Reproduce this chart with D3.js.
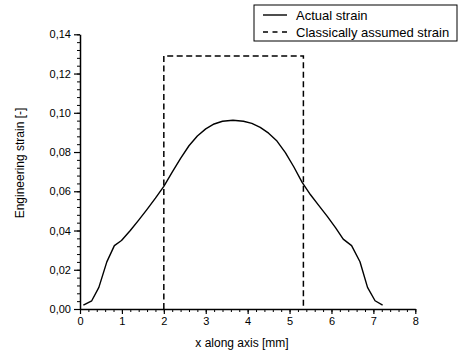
<!DOCTYPE html>
<html>
<head>
<meta charset="utf-8">
<script src="https://cdn.jsdelivr.net/npm/d3@7"></script>
<style>
  body { margin: 0; background: #fff; }
  text { font-family: "Liberation Sans", Arial, sans-serif; fill: #000; }
</style>
</head>
<body>
<script>
// actual strain along the axis
const xPos = [0.08, 0.28, 0.45, 0.64, 0.82, 0.99, 1.2, 1.4, 1.6, 1.8, 2.0, 2.2, 2.4, 2.6, 2.8, 3.0, 3.2, 3.4, 3.65,
  3.9, 4.1, 4.3, 4.5, 4.7, 4.9, 5.1, 5.3, 5.5, 5.7, 5.9, 6.1, 6.28, 6.48, 6.68, 6.86, 7.04, 7.22];
const strain = [0.002, 0.0042, 0.011, 0.024, 0.0323, 0.0349, 0.040, 0.0453, 0.0508, 0.0565, 0.0625, 0.0698, 0.0768,
  0.0832, 0.0882, 0.0918, 0.0943, 0.0957, 0.0962, 0.0957, 0.0946, 0.0926, 0.0896, 0.0856, 0.0797, 0.0725, 0.0645,
  0.0582, 0.0527, 0.0472, 0.0413, 0.0356, 0.0323, 0.0241, 0.011, 0.0042, 0.002];
// classically assumed strain (constant between two positions)
const assumedX = [2.0, 5.33];
const assumedStrain = 0.129;

const xTicks = [0, 1, 2, 3, 4, 5, 6, 7, 8];
const yTicks = [0, 0.02, 0.04, 0.06, 0.08, 0.10, 0.12, 0.14];
const seriesNames = ["Actual strain", "Classically assumed strain"];

const width = 459, height = 352;
const svg = d3.select("body").append("svg").attr("width", width).attr("height", height);

const x = d3.scaleLinear().domain([0, 8]).range([80, 415.3]);
const y = d3.scaleLinear().domain([0, 0.14]).range([309, 34.3]);
const fmt = d => d.toFixed(2).replace(".", ",");

// minor ticks
svg.append("g").attr("transform", "translate(0,309)")
  .call(d3.axisBottom(x).tickValues(d3.range(0, 8.01, 0.2)).tickSize(3).tickFormat(""))
  .call(g => g.select(".domain").remove());
svg.append("g").attr("transform", "translate(80,0)")
  .call(d3.axisLeft(y).tickValues(d3.range(0, 0.1401, 0.004)).tickSize(3).tickFormat(""))
  .call(g => g.select(".domain").remove());

const xAxis = svg.append("g").attr("transform", "translate(0,309)")
  .call(d3.axisBottom(x).tickValues(xTicks).tickSize(5).tickSizeOuter(0).tickPadding(3));
const yAxis = svg.append("g").attr("transform", "translate(80,0)")
  .call(d3.axisLeft(y).tickValues(yTicks).tickFormat(fmt).tickSize(6).tickSizeOuter(0).tickPadding(3));

[xAxis, yAxis].forEach(g => {
  g.select(".domain").attr("stroke-width", 1.5);
  g.selectAll("text").style("font-size", "11px").attr("fill", "#000");
  g.selectAll("line").attr("stroke-width", 1.2);
});
svg.selectAll(".tick line").attr("stroke", "#000");

// axis titles
svg.append("text").attr("x", 242).attr("y", 347).attr("text-anchor", "middle")
  .style("font-size", "12px").text("x along axis [mm]");
svg.append("text").attr("transform", "translate(24,163) rotate(-90)").attr("text-anchor", "middle")
  .style("font-size", "12px").text("Engineering strain [-]");

// assumed strain box
const box = [[assumedX[0], 0], [assumedX[0], assumedStrain], [assumedX[1], assumedStrain], [assumedX[1], 0]];
svg.append("path")
  .attr("d", d3.line().x(d => x(d[0])).y(d => y(d[1]))(box))
  .attr("fill", "none").attr("stroke", "#000").attr("stroke-width", 1.5)
  .attr("stroke-dasharray", "6,3.5");

// actual strain curve
const pts = xPos.map((v, i) => [v, strain[i]]);
svg.append("path")
  .attr("d", d3.line().x(d => x(d[0])).y(d => y(d[1]))(pts))
  .attr("fill", "none").attr("stroke", "#000").attr("stroke-width", 1.4)
  .attr("stroke-linejoin", "round");

// legend
const legend = svg.append("g");
legend.append("rect").attr("x", 254).attr("y", 5).attr("width", 203).attr("height", 36)
  .attr("fill", "#fff").attr("stroke", "#000").attr("stroke-width", 1);
seriesNames.forEach((name, i) => {
  const ly = 15 + i * 17;
  legend.append("line").attr("x1", 263).attr("x2", 287).attr("y1", ly).attr("y2", ly)
    .attr("stroke", "#000").attr("stroke-width", 1.4)
    .attr("stroke-dasharray", i === 1 ? "5,4.5" : null);
  legend.append("text").attr("x", 296).attr("y", ly + 5).style("font-size", "13px").text(name);
});
</script>
</body>
</html>
